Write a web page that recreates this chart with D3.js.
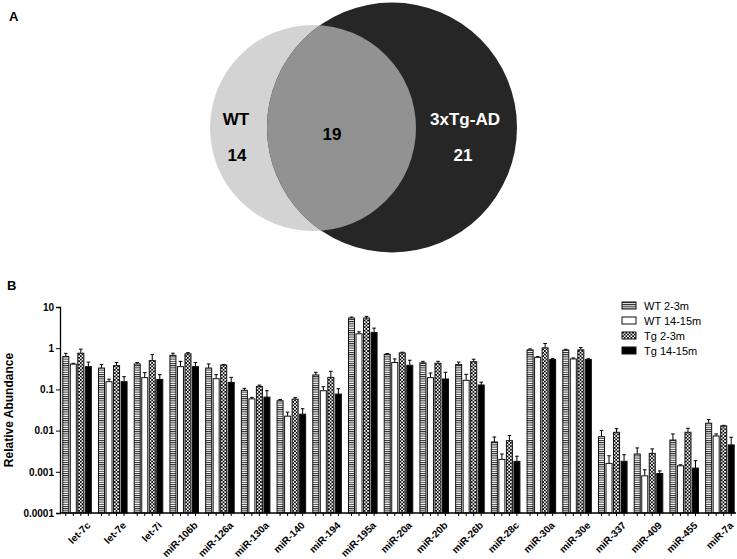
<!DOCTYPE html>
<html>
<head>
<meta charset="utf-8">
<script src="https://cdn.jsdelivr.net/npm/d3@7"></script>
<style>
  body { margin: 0; background: #fff; }
  svg { display: block; font-family: "Liberation Sans", Arial, sans-serif; }
</style>
</head>
<body>
<svg id="chart" width="737" height="559"></svg>
<script>
// ---- Venn data ----
var vennNames = ["WT", "3xTg-AD"];
var vennOnly = [14, 21];
var vennShared = 19;

// ---- bar chart data ----
var categories = ["let-7c", "let-7e", "let-7i", "miR-106b", "miR-126a", "miR-130a", "miR-140", "miR-194", "miR-195a",
  "miR-20a", "miR-20b", "miR-26b", "miR-28c", "miR-30a", "miR-30e", "miR-337", "miR-409", "miR-455", "miR-7a"];
var seriesNames = ["WT 2-3m", "WT 14-15m", "Tg 2-3m", "Tg 14-15m"];

var wt23 = [0.63, 0.33, 0.415, 0.67, 0.33, 0.095, 0.053, 0.224, 5.4, 0.71, 0.44, 0.40, 0.0053, 0.91, 0.90, 0.0071, 0.0027, 0.0059, 0.0151];
var wt23Sem = [0.12, 0.07, 0.035, 0.085, 0.085, 0.011, 0.004, 0.036, 0.3, 0.03, 0.04, 0.06, 0.0017, 0.05, 0.04, 0.0029, 0.0011, 0.0024, 0.0034];
var wt1415 = [0.41, 0.154, 0.193, 0.357, 0.182, 0.059, 0.0224, 0.093, 2.24, 0.45, 0.193, 0.166, 0.0020, 0.60, 0.55, 0.0016, 0.0008, 0.0014, 0.0074];
var wt1415Sem = [0.02, 0.023, 0.062, 0.123, 0.046, 0.005, 0.0056, 0.023, 0.26, 0.1, 0.057, 0.066, 0.0007, 0.03, 0.03, 0.00085, 0.00032, 0.00008, 0.0009];
var tg23 = [0.755, 0.377, 0.50, 0.73, 0.39, 0.118, 0.058, 0.196, 5.4, 0.77, 0.43, 0.47, 0.0057, 1.02, 0.91, 0.0091, 0.0028, 0.0091, 0.013];
var tg23Sem = [0.195, 0.073, 0.2, 0.05, 0.01, 0.009, 0.005, 0.079, 0.5, 0.03, 0.05, 0.07, 0.0019, 0.28, 0.13, 0.002, 0.0008, 0.0023, 0.0004];
var tg1415 = [0.357, 0.154, 0.175, 0.357, 0.148, 0.065, 0.025, 0.077, 2.41, 0.385, 0.179, 0.128, 0.00179, 0.53, 0.53, 0.0018, 0.00091, 0.00123, 0.0045];
var tg1415Sem = [0.103, 0.05, 0.053, 0.093, 0.048, 0.028, 0.009, 0.027, 0.66, 0.125, 0.081, 0.022, 0.0006, 0.03, 0.025, 0.0008, 0.00014, 0.00063, 0.0024];

var yTicks = [0.0001, 0.001, 0.01, 0.1, 1, 10];
var yTickLabels = ["0.0001", "0.001", "0.01", "0.1", "1", "10"];

var means = [wt23, wt1415, tg23, tg1415];
var sems = [wt23Sem, wt1415Sem, tg23Sem, tg1415Sem];
var fills = ["url(#hatch)", "#ffffff", "url(#check)", "#000000"];

var svg = d3.select("#chart");

// patterns
var defs = svg.append("defs");
var hatch = defs.append("pattern").attr("id", "hatch")
  .attr("patternUnits", "userSpaceOnUse").attr("width", 4).attr("height", 2.2);
hatch.append("rect").attr("width", 4).attr("height", 2.2).attr("fill", "#fff");
hatch.append("rect").attr("width", 4).attr("height", 1).attr("fill", "#222");

var check = defs.append("pattern").attr("id", "check")
  .attr("patternUnits", "userSpaceOnUse").attr("width", 3.4).attr("height", 3.4);
check.append("rect").attr("width", 3.4).attr("height", 3.4).attr("fill", "#fff");
check.append("rect").attr("width", 1.7).attr("height", 1.7).attr("fill", "#000");
check.append("rect").attr("x", 1.7).attr("y", 1.7).attr("width", 1.7).attr("height", 1.7).attr("fill", "#000");

// ---------- Panel A : Venn ----------
svg.append("text").attr("x", 9).attr("y", 21)
  .style("font-size", "13px").style("font-weight", "bold").text("A");

var venn = svg.append("g");
var wtCircle = { cx: 313, cy: 128, r: 103 };
var tgCircle = { cx: 392, cy: 127.5, r: 125 };

defs.append("clipPath").attr("id", "wtClip")
  .append("circle").attr("cx", wtCircle.cx).attr("cy", wtCircle.cy).attr("r", wtCircle.r);

venn.append("circle").attr("cx", wtCircle.cx).attr("cy", wtCircle.cy).attr("r", wtCircle.r)
  .attr("fill", "#d3d3d3");
venn.append("circle").attr("cx", tgCircle.cx).attr("cy", tgCircle.cy).attr("r", tgCircle.r)
  .attr("fill", "#262626");
venn.append("circle").attr("cx", tgCircle.cx).attr("cy", tgCircle.cy).attr("r", tgCircle.r)
  .attr("clip-path", "url(#wtClip)").attr("fill", "#929292");

var vennText = [
  { t: vennNames[0], x: 236, y: 125, c: "#000" },
  { t: vennOnly[0], x: 237, y: 161, c: "#000" },
  { t: vennShared, x: 332, y: 140, c: "#000" },
  { t: vennNames[1], x: 465, y: 125, c: "#fff" },
  { t: vennOnly[1], x: 463, y: 161, c: "#fff" }
];
venn.selectAll(".vlabel").data(vennText).enter().append("text")
  .attr("class", "vlabel")
  .attr("x", d => d.x).attr("y", d => d.y)
  .attr("text-anchor", "middle")
  .style("font-size", "17px").style("font-weight", "bold")
  .attr("fill", d => d.c)
  .text(d => d.t);

// ---------- Panel B : bar chart ----------
svg.append("text").attr("x", 7).attr("y", 290)
  .style("font-size", "13px").style("font-weight", "bold").text("B");

var axisX = 60;
var x0 = d3.scaleBand().domain(categories).range([axisX + 1, 736]).paddingInner(0.2).paddingOuter(0.05);
var x1 = d3.scaleBand().domain(d3.range(4)).range([0, x0.bandwidth()]).paddingInner(0.2);
var y = d3.scaleLog().domain([0.0001, 10]).range([513, 307]);

var bars = svg.append("g");
var rows = [];
categories.forEach(function(c, i) {
  for (var s = 0; s < 4; s++) {
    rows.push({ cat: c, s: s, v: means[s][i], e: sems[s][i] });
  }
});

// error bars (upper only)
var eb = bars.selectAll(".err").data(rows).enter().append("g").attr("class", "err");
eb.append("line")
  .attr("x1", d => x0(d.cat) + x1(d.s) + x1.bandwidth() / 2)
  .attr("x2", d => x0(d.cat) + x1(d.s) + x1.bandwidth() / 2)
  .attr("y1", d => y(d.v)).attr("y2", d => y(d.v + d.e))
  .attr("stroke", "#000").attr("stroke-width", 1);
eb.append("line")
  .attr("x1", d => x0(d.cat) + x1(d.s) + x1.bandwidth() / 2 - 1.8)
  .attr("x2", d => x0(d.cat) + x1(d.s) + x1.bandwidth() / 2 + 1.8)
  .attr("y1", d => y(d.v + d.e)).attr("y2", d => y(d.v + d.e))
  .attr("stroke", "#000").attr("stroke-width", 1);

bars.selectAll(".bar").data(rows).enter().append("rect")
  .attr("class", "bar")
  .attr("x", d => x0(d.cat) + x1(d.s))
  .attr("y", d => y(d.v))
  .attr("width", x1.bandwidth())
  .attr("height", d => y(0.0001) - y(d.v))
  .attr("fill", d => fills[d.s])
  .attr("stroke", "#111").attr("stroke-width", 1);

// y axis
var yAxis = svg.append("g").attr("transform", "translate(" + axisX + ",0)")
  .call(d3.axisLeft(y).tickValues(yTicks).tickFormat((d, i) => yTickLabels[i]).tickSize(4).tickPadding(2));
yAxis.select(".domain").attr("stroke", "#000").attr("stroke-width", 1.3);
yAxis.selectAll("text").style("font-size", "10px").style("font-weight", "bold")
  .style("font-family", "'Liberation Sans', Arial, sans-serif").attr("fill", "#000");

// x axis: ticks under each bar
var xAxis = svg.append("g");
xAxis.append("line").attr("x1", axisX).attr("x2", 736)
  .attr("y1", y(0.0001)).attr("y2", y(0.0001)).attr("stroke", "#000").attr("stroke-width", 1.3);
xAxis.selectAll(".bt").data(rows).enter().append("line")
  .attr("x1", d => x0(d.cat) + x1(d.s) + x1.bandwidth() / 2)
  .attr("x2", d => x0(d.cat) + x1(d.s) + x1.bandwidth() / 2)
  .attr("y1", y(0.0001)).attr("y2", y(0.0001) + 3)
  .attr("stroke", "#000").attr("stroke-width", 1);

xAxis.selectAll(".xl").data(categories).enter().append("text")
  .attr("class", "xl")
  .attr("transform", d => "translate(" + (x0(d) + x0.bandwidth() / 2 + 14) + "," + (y(0.0001) + 13) + ") rotate(-45)")
  .attr("text-anchor", "end")
  .style("font-size", "10px").style("font-weight", "bold")
  .text(d => d);

svg.append("text")
  .attr("transform", "translate(13,410) rotate(-90)")
  .attr("text-anchor", "middle")
  .style("font-size", "12px").style("font-weight", "bold")
  .text("Relative Abundance");

// legend
var legend = svg.append("g").attr("transform", "translate(622,302)");
var li = legend.selectAll(".li").data(seriesNames).enter().append("g")
  .attr("transform", (d, i) => "translate(0," + (i * 15) + ")");
li.append("rect").attr("width", 14).attr("height", 7)
  .attr("fill", (d, i) => fills[i]).attr("stroke", "#111").attr("stroke-width", 1);
li.append("text").attr("x", 22).attr("y", 8)
  .style("font-size", "11px").text(d => d);
</script>
</body>
</html>
